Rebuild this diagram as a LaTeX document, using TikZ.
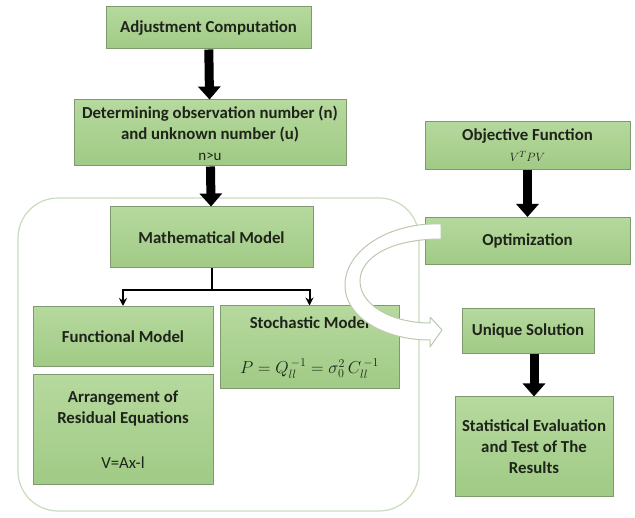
\documentclass[tikz,border=0pt]{standalone}
\usepackage{fontspec}
\setmainfont{Carlito}
\usepackage{amsmath}
\usepackage{xcolor}
\usetikzlibrary{arrows.meta, positioning}

\definecolor{boxtop}{HTML}{B6D99E}
\definecolor{boxbottom}{HTML}{A0CA85}
\definecolor{boxline}{HTML}{7E9A6E}
\definecolor{frameline}{HTML}{C9DBBB}
\definecolor{textdark}{HTML}{1E241A}

\begin{document}
\begin{tikzpicture}[x=1pt, y=-1pt,
box/.style={rectangle, draw=boxline, top color=boxtop, bottom color=boxbottom, line width=1pt, inner sep=0pt, align=center, text=textdark, font=\fontsize{16.8}{21}\selectfont\bfseries},
bigarrow/.style={line width=9pt, -{Triangle[width=22pt, length=13pt]}},
branch/.style={line width=2pt, -{Stealth[width=8pt, length=8pt]}}
]
	\useasboundingbox (0,0) rectangle (635,518);
	% rounded frame round the model part
	\draw[frameline, line width=1.2pt, rounded corners=40pt] (18,198) rectangle (419,511);

	\node[box, minimum width=205pt, minimum height=42pt] (adj) at (208.5,28) {Adjustment Computation};
	\node[box, minimum width=272pt, minimum height=66pt] (det) at (210,133) {Determining observation number (n)\\and unknown number (u)\\{\mdseries\fontsize{15}{15}\selectfont n>u}};
	\node[box, minimum width=203pt, minimum height=61pt] (math) at (211.5,237.5) {Mathematical Model};
	\node[box, minimum width=180pt, minimum height=60pt] (func) at (123,336.5) {Functional Model};
	\node[box, minimum width=179pt, minimum height=83pt] (stoch) at (309.5,347.5) {Stochastic Model\\[24pt]{\mdseries $P=Q_{ll}^{\,-1}=\sigma_0^{2}\,C_{ll}^{\,-1}$}};
	\node[box, minimum width=180pt, minimum height=110pt] (arr) at (123,430) {Arrangement of\\Residual Equations\\[24pt]{\mdseries V=Ax-l}};
	\node[box, minimum width=205pt, minimum height=48pt] (obj) at (527.5,145.5) {Objective Function\\{\mdseries\fontsize{13}{15}\selectfont $V^{T}PV$}};
	\node[box, minimum width=205pt, minimum height=47pt] (opt) at (527.5,241) {Optimization};
	\node[box, minimum width=132pt, minimum height=45pt] (uniq) at (528,331) {Unique Solution};
	\node[box, minimum width=158pt, minimum height=100pt] (stat) at (534,447) {Statistical Evaluation\\and Test of The\\Results};

	\draw[bigarrow] (adj) -- (det);
	\draw[bigarrow] (det) -- (math);
	\draw[bigarrow] (obj) -- (opt);
	\draw[bigarrow] (stat.north |- uniq.south) -- (stat.north);
	\draw[branch] (math.south) -- ++(0,22) coordinate (split) -| (func.north);
	\draw[branch] (split) -| (stoch.north);

	% hollow curved arrow from optimization to unique solution
	\draw[frameline!80!gray, fill=white, line width=1pt, line join=round]
		(441,224) .. controls (390,222) and (345,250) .. (345,285)
		.. controls (345,318) and (385,340) .. (430,340) -- (430,347) -- (442,330) -- (430,317) -- (430,323)
		.. controls (392,323) and (360,305) .. (360,281)
		.. controls (360,258) and (390,239) .. (441,239) -- cycle;
\end{tikzpicture}
\end{document}
